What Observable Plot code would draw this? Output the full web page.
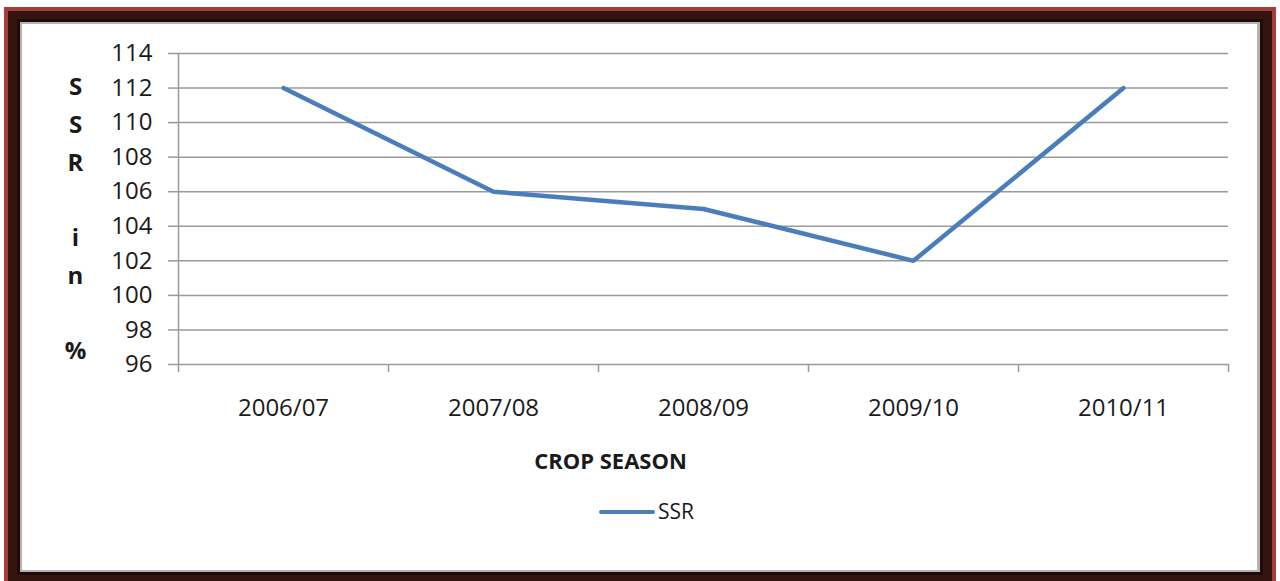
<!DOCTYPE html>
<html>
<head>
<meta charset="utf-8">
<script src="https://cdn.jsdelivr.net/npm/d3@7"></script>
<script src="https://cdn.jsdelivr.net/npm/@observablehq/plot@0.6"></script>
<style>
  html, body { margin: 0; padding: 0; background: #ffffff; width: 1280px; height: 581px; overflow: hidden; font-family: "Open Sans", sans-serif; }
  .layer { position: absolute; }
  #red   { left: 4px;  top: 7px;  width: 1272px; height: 580px; background: #a63d3a; }
  #brown { left: 8px;  top: 11px; width: 1264px; height: 580px; background: #34140f; }
  #dark  { left: 17px; top: 19px; width: 1246px; height: 556px; background: #1e0b09; }
  #gray  { left: 20px; top: 22px; width: 1240px; height: 550px; background: #b3b3b3; }
  #white { left: 22px; top: 24px; width: 1235px; height: 546px; background: #ffffff; }
  #chart { position: absolute; left: 0; top: 0; }
  #legend { position: absolute; left: 0; top: 480px; width: 1280px; height: 60px; }
  #legend .swatch { position: absolute; left: 599px; top: 30px; width: 56px; height: 4px; background: #4a7ebb; border-radius: 2px; }
  #legend .label { position: absolute; left: 658px; top: 16px; font-size: 21px; color: #1a1a1a; line-height: 30px; }
</style>
</head>
<body>
<div class="layer" id="red"></div>
<div class="layer" id="brown"></div>
<div class="layer" id="dark"></div>
<div class="layer" id="gray"></div>
<div class="layer" id="white"></div>
<div id="chart"></div>
<div id="legend"><span class="swatch"></span><span class="label">SSR</span></div>
<script>
const seasons = ["2006/07", "2007/08", "2008/09", "2009/10", "2010/11"];
const ssr = [112, 106, 105, 102, 112];
const yTicks = [96, 98, 100, 102, 104, 106, 108, 110, 112, 114];
const seriesName = "SSR";
const xTitle = "CROP SEASON";
const yTitleLines = ["S", "S", "R", "", "i", "n", "", "%"];

const data = seasons.map((s, i) => ({season: s, value: ssr[i]}));

const W = 1280, H = 480;
const mL = 178, mR = 52, mT = 53, mB = 116;
const halfStep = (W - mL - mR) / seasons.length / 2;
const gridColor = "#9a9a9a";
const textColor = "#1a1a1a";

const plot = Plot.plot({
  width: W,
  height: H,
  marginLeft: mL,
  marginRight: mR,
  marginTop: mT,
  marginBottom: mB,
  style: {background: "transparent", fontFamily: "'Open Sans', sans-serif", color: textColor},
  x: {type: "point", domain: seasons, padding: 0.5, label: null},
  y: {domain: [96, 114], label: null},
  marks: [
    Plot.ruleY(yTicks, {stroke: gridColor, strokeWidth: 1.5}),
    Plot.axisY({ticks: yTicks, tickSize: 10, tickPadding: 16, fontSize: 24, stroke: gridColor, strokeWidth: 1.5, fill: textColor, label: null}),
    // y-axis line
    Plot.ruleX([seasons[0]], {x: d => d, dx: -halfStep, y1: 96, y2: 114, stroke: gridColor, strokeWidth: 1.5}),
    Plot.ruleX([seasons[0]], {x: d => d, dx: -halfStep, y1: 96, y2: 96, insetBottom: -8, stroke: gridColor, strokeWidth: 1.5}),
    // category boundary ticks
    Plot.ruleX(seasons, {x: d => d, dx: halfStep, y1: 96, y2: 96, insetBottom: -8, stroke: gridColor, strokeWidth: 1.5}),
    Plot.axisX({tickSize: 0, tickPadding: 34, fontSize: 24, fill: textColor, label: null}),
    Plot.lineY(data, {x: "season", y: "value", stroke: "#4a7ebb", strokeWidth: 4.5, strokeLinejoin: "miter", strokeLinecap: "round"}),
    Plot.text([xTitle], {text: d => d, frameAnchor: "bottom", dx: -93, dy: 104, fontSize: 22, fontWeight: "bold", fill: textColor, lineAnchor: "bottom"}),
    Plot.text([yTitleLines.join("\n")], {text: d => d, frameAnchor: "left", dx: -103, dy: 6, fontSize: 24, fontWeight: "bold", fill: textColor, textAnchor: "middle", lineAnchor: "middle", lineHeight: 1.571})
  ]
});
document.getElementById("chart").appendChild(plot);
</script>
</body>
</html>
